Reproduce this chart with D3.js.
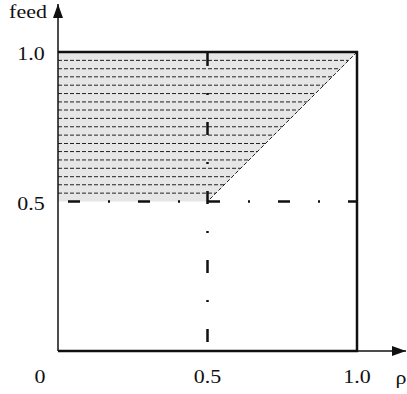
<!DOCTYPE html>
<html>
<head>
<meta charset="utf-8">
<script src="https://cdn.jsdelivr.net/npm/d3@7"></script>
<style>
  html, body { margin: 0; padding: 0; background: #fff; }
</style>
</head>
<body>
<div id="chart"></div>
<script>
// axis ticks and labels
const xTicks = [0.5, 1.0];
const xTickLabels = ["0.5", "1.0"];
const yTicks = [0.5, 1.0];
const yTickLabels = ["0.5", "1.0"];

// shaded region (rho, feed) and the split lines at 0.5
const regionRho = [0, 1.0, 0.5, 0];
const regionFeed = [1.0, 1.0, 0.5, 0.5];
const splitRho = 0.5;
const splitFeed = 0.5;

// hatch levels inside the shaded area
const hatchFeed = [0.528, 0.556, 0.583, 0.611, 0.639, 0.667, 0.694, 0.722, 0.75,
                   0.778, 0.806, 0.833, 0.861, 0.889, 0.917, 0.944, 0.972];

const width = 407, height = 394;
const serif = "'Liberation Serif', 'Times New Roman', 'DejaVu Serif', serif";

const x = d3.scaleLinear().domain([0, 1]).range([58, 357]);
const y = d3.scaleLinear().domain([0, 1]).range([351, 52]);

const svg = d3.select("#chart").append("svg")
    .attr("width", width)
    .attr("height", height);

// shaded region
const pts = regionRho.map((r, i) => [x(r), y(regionFeed[i])]);
svg.append("path")
    .attr("d", d3.line()(pts) + "Z")
    .attr("fill", "#e6e6e6")
    .attr("stroke", "none");

// hatch lines, each one stops at the diagonal (rho = feed)
hatchFeed.forEach(f => {
    svg.append("line")
        .attr("x1", x(0)).attr("x2", x(f))
        .attr("y1", y(f)).attr("y2", y(f))
        .attr("stroke", "#222")
        .attr("stroke-width", 1)
        .attr("stroke-dasharray", "4,2");
});

// diagonal boundary
svg.append("line")
    .attr("x1", x(1)).attr("y1", y(1))
    .attr("x2", x(splitRho)).attr("y2", y(splitFeed))
    .attr("stroke", "#222")
    .attr("stroke-width", 1)
    .attr("stroke-dasharray", "4,2");

// dash-dot split lines
svg.append("line")
    .attr("x1", x(0)).attr("x2", x(1))
    .attr("y1", y(splitFeed)).attr("y2", y(splitFeed))
    .attr("stroke", "#111")
    .attr("stroke-width", 2.5)
    .attr("stroke-dasharray", "12,28,2,28")
    .attr("stroke-dashoffset", 60);

svg.append("line")
    .attr("x1", x(splitRho)).attr("x2", x(splitRho))
    .attr("y1", y(1)).attr("y2", y(0))
    .attr("stroke", "#111")
    .attr("stroke-width", 2.5)
    .attr("stroke-dasharray", "13,27,2,27")
    .attr("stroke-dashoffset", -1);

// box: top, right, bottom
svg.append("path")
    .attr("d", `M${x(0)},${y(1)}H${x(1)}V${y(0)}H${x(0)}`)
    .attr("fill", "none")
    .attr("stroke", "#111")
    .attr("stroke-width", 2.5);

// axes with arrows
svg.append("defs").append("marker")
    .attr("id", "arrow")
    .attr("viewBox", "0 0 14 10")
    .attr("refX", 14).attr("refY", 5)
    .attr("markerWidth", 14).attr("markerHeight", 10)
    .attr("markerUnits", "userSpaceOnUse")
    .attr("orient", "auto")
    .append("path")
    .attr("d", "M0,0L14,5L0,10Z")
    .attr("fill", "#111");

svg.append("line")
    .attr("x1", x(0)).attr("y1", y(0))
    .attr("x2", x(0)).attr("y2", 4)
    .attr("stroke", "#111").attr("stroke-width", 1.5)
    .attr("marker-end", "url(#arrow)");

svg.append("line")
    .attr("x1", x(0)).attr("y1", y(0))
    .attr("x2", 406).attr("y2", y(0))
    .attr("stroke", "#111").attr("stroke-width", 1.5)
    .attr("marker-end", "url(#arrow)");

// labels are a bit wide in the original, so stretch them horizontally
function label(cx, baseline, str, size) {
    svg.append("text")
        .attr("transform", `translate(${cx},${baseline}) scale(1.22,1)`)
        .attr("text-anchor", "middle")
        .attr("font-family", serif)
        .attr("font-size", size)
        .attr("fill", "#111")
        .text(str);
}

xTicks.forEach((d, i) => label(x(d), 383, xTickLabels[i], "18px"));
label(40, 383, "0", "18px");
yTicks.forEach((d, i) => label(31, y(d) + 8, yTickLabels[i], "18px"));
label(28, 18, "feed", "18px");
label(401, 384, "ρ", "18px");
</script>
</body>
</html>
